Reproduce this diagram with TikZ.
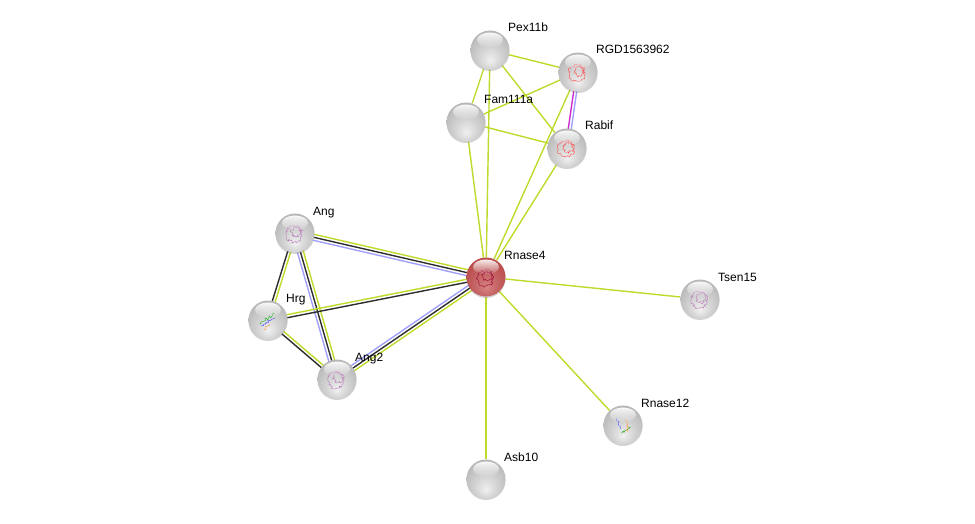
\documentclass[tikz,border=0pt]{standalone}
\usepackage{fontspec}
\setmainfont{Liberation Sans}
\usetikzlibrary{calc}
\usetikzlibrary{backgrounds}
\usetikzlibrary{shadows}
\usetikzlibrary{fadings}
\usetikzlibrary{decorations.pathmorphing}

\definecolor{tmgreen}{RGB}{192,217,42}
\definecolor{coexp}{RGB}{45,45,45}
\definecolor{homol}{RGB}{160,160,255}
\definecolor{expmag}{RGB}{205,45,205}
\definecolor{redhi}{RGB}{215,130,130}
\definecolor{redmid}{RGB}{185,70,70}
\definecolor{redrim}{RGB}{110,18,18}

\pgfdeclareradialshading{greysphere}{\pgfpoint{0bp}{-14bp}}{color(0bp)=(white!94!black); color(14bp)=(white!83!black); color(30bp)=(white!72!black); color(44bp)=(white!55!black); color(50bp)=(white!42!black)}
\pgfdeclareradialshading{redsphere}{\pgfpoint{0bp}{-14bp}}{color(0bp)=(redhi); color(16bp)=(redmid!85!white); color(32bp)=(redmid); color(44bp)=(redrim); color(50bp)=(redrim)}

% parallel line between two nodes
\newcommand{\band}[4]{\draw[#4] ($(#1)!#3!90:(#2)$) -- ($(#2)!#3!-90:(#1)$);}

\begin{document}
\begin{tikzpicture}[x=1pt,y=-1pt,
    sphere/.style={circle, minimum size=39pt, inner sep=0pt, shading=greysphere,
      drop shadow={shadow xshift=0pt, shadow yshift=-1.5pt, opacity=0.35}},
    hub/.style={sphere, shading=redsphere},
    lbl/.style={anchor=base west, inner sep=0pt, font=\fontsize{12}{14}\selectfont},
    tm/.style={tmgreen, line width=1.4pt},
    co/.style={coexp, line width=1.4pt},
    ho/.style={homol, line width=1.4pt},
    ex/.style={expmag, line width=1.4pt},
    struct/.style={#1, line width=0.35pt, decorate,
      decoration={random steps, segment length=1.2pt, amplitude=1.4pt}}]
  \useasboundingbox (0,0) rectangle (975,524);
  \pgfmathsetseed{7}

  % Proteins
  \foreach \n/\x/\y/\t/\s in {pex11b/490/50/Pex11b/sphere, rgd/578/72/RGD1563962/sphere,
      fam111a/466/122/Fam111a/sphere, rabif/567/148/Rabif/sphere, ang/295/233/Ang/sphere,
      rnase4/486/277/Rnase4/hub, tsen15/700/299/Tsen15/sphere, hrg/268/320/Hrg/sphere,
      ang2/337/379/Ang2/sphere, rnase12/623/425/Rnase12/sphere, asb10/486/479/Asb10/sphere}
  {
    \node[\s] (\n) at (\x,\y) {};
    \node[lbl] (\n-l) at (\x+18,\y-18) {\t};
  }

  % Structures
  \foreach \n/\c in {rgd/red!75, rabif/red!75, ang/violet!55, ang2/violet!55,
      tsen15/violet!55, rnase4/purple!80!black}
  {
    \draw[struct=\c] ($(\n)+(-1,1)$) circle (8);
    \draw[struct=\c] ($(\n)+(1,-1)$) circle (4.5);
  }
  \draw[struct=green!70!black] ($(hrg)+(-8,3)$) -- ($(hrg)+(6,-6)$);
  \draw[struct=blue!70] ($(hrg)+(-7,6)$) -- ($(hrg)+(7,-2)$);
  \draw[struct=orange!80] ($(hrg)+(-4,9)$) -- ($(hrg)+(2,6)$);
  \draw[struct=blue!60] ($(rnase12)+(-6,-7)$) -- ($(rnase12)+(-3,4)$);
  \draw[struct=green!65!black] ($(rnase12)+(-2,8)$) -- ($(rnase12)+(8,2)$);
  \draw[struct=orange!70] ($(rnase12)+(3,-6)$) -- ($(rnase12)+(5,7)$);

  % Gloss
  \foreach \n in {pex11b,rgd,fam111a,rabif,ang,rnase4,tsen15,hrg,ang2,rnase12,asb10}
    \fill[white, opacity=0.9, path fading=south] ($(\n)+(0,-10)$) ellipse (13 and 7.5);

  % Links
  \begin{scope}[on background layer]
    \foreach \a/\b in {pex11b/rgd, pex11b/fam111a, pex11b/rabif, pex11b/rnase4,
        rgd/fam111a, rgd/rnase4, fam111a/rabif, fam111a/rnase4, rabif/rnase4,
        rnase4/tsen15, rnase4/rnase12, rnase4/asb10}
      \draw[tm] (\a) -- (\b);
    \foreach \a/\b/\d/\s in {rgd/rabif/-1.5/ex, rgd/rabif/1.5/ho,
        ang/rnase4/3/tm, ang/rnase4/0/co, ang/rnase4/-3/ho,
        ang/ang2/-3/ho, ang/ang2/0/co, ang/ang2/3/tm,
        ang2/rnase4/3/ho, ang2/rnase4/0/co, ang2/rnase4/-3/tm,
        hrg/rnase4/1.5/tm, hrg/rnase4/-1.5/co,
        ang/hrg/-1.5/co, ang/hrg/1.5/tm,
        hrg/ang2/1.5/tm, hrg/ang2/-1.5/co}
      \band{\a}{\b}{\d pt}{\s};
  \end{scope}
\end{tikzpicture}
\end{document}
